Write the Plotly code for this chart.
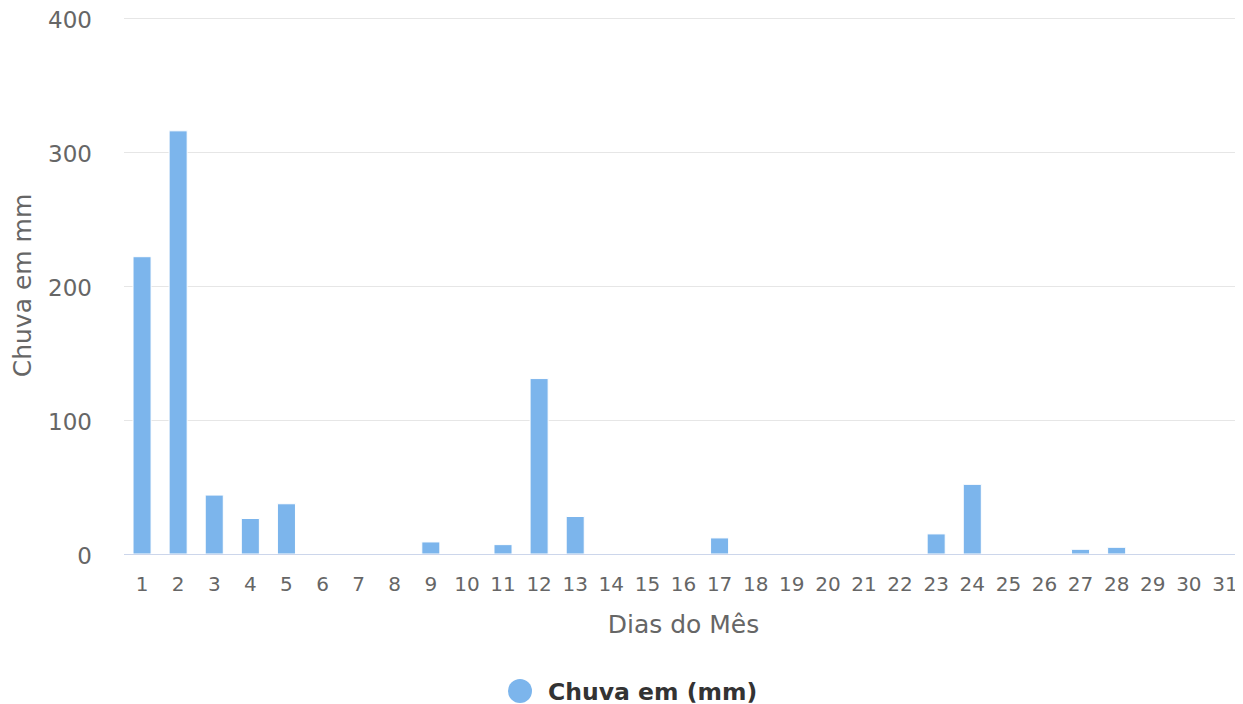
import plotly.graph_objects as go

dias = [str(d) for d in range(1, 32)]
chuva = [222, 316, 44, 26.5, 37.5, 0, 0, 0, 9, 0, 7, 131, 28, 0, 0, 0, 12,
         0, 0, 0, 0, 0, 15, 52, 0, 0, 3.5, 5, 0, 0, 0]
y_ticks = [0, 100, 200, 300, 400]
serie_nome = "Chuva em (mm)"

COLOR = "#7cb5ec"
FONT = "DejaVu Sans"

# page has an 8px body margin; plot area in page pixels: x 124..1243, y 17..554
PW, PH = 1119, 537

fig = go.Figure()
fig.add_trace(go.Bar(x=dias, y=chuva, marker=dict(color=COLOR, line=dict(color="#ffffff", width=1)),
                     showlegend=False, name=serie_nome))

# legend (Highcharts-style: large circle + bold label), centred below the chart
fig.add_shape(type="circle", xref="paper", yref="paper", xsizemode="pixel", ysizemode="pixel",
              xanchor=(520 - 124) / PW, yanchor=(554 - 691) / PH,
              x0=-12, x1=12, y0=-12, y1=12, fillcolor=COLOR, line=dict(width=0))
fig.add_annotation(text="<b>" + serie_nome + "</b>", xref="paper", yref="paper",
                   x=(546 - 124) / PW, y=(554 - 692) / PH, xanchor="left", yanchor="middle",
                   showarrow=False, font=dict(size=23.5, color="#333333", family=FONT))

fig.update_layout(
    width=1235, height=704,
    margin=dict(l=116, r=0, t=9, b=158),
    paper_bgcolor="white", plot_bgcolor="white",
    font=dict(family=FONT, size=20, color="#666666"),
    bargap=0.5,
    showlegend=False,
    xaxis=dict(type="category", showgrid=False, showline=True, linecolor="#ccd6eb", linewidth=1,
               ticks="", automargin=False, ticklabelstandoff=12, ticklabeloverflow="allow",
               tickfont=dict(size=20, color="#666666"),
               title=dict(text="Dias do Mês", font=dict(size=25, color="#666666"), standoff=20)),
    yaxis=dict(range=[0, 401], tickvals=y_ticks, showgrid=True, gridcolor="#e6e6e6", gridwidth=1,
               zeroline=False, showline=False, ticks="", automargin=False, ticklabelstandoff=31,
               ticklabeloverflow="allow", ticklabelshift=2,
               tickfont=dict(size=23, color="#666666"),
               title=dict(text="Chuva em mm", font=dict(size=25, color="#666666"), standoff=12)),
)

fig.write_html("out.html")
